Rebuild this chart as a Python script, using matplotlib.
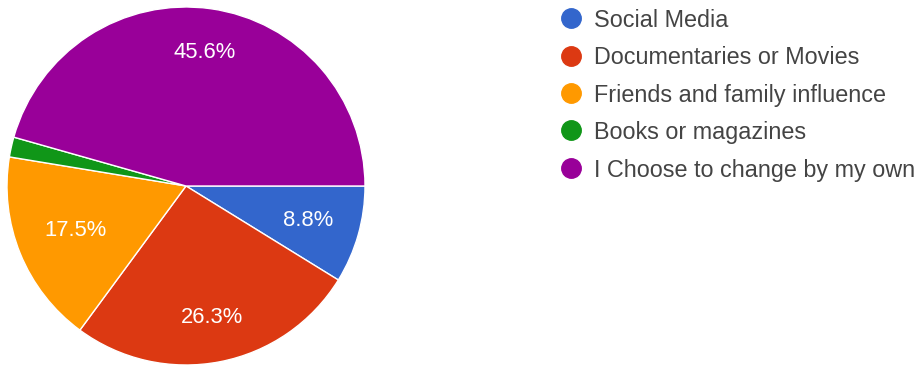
import matplotlib
matplotlib.use("Agg")
import matplotlib.pyplot as plt
import numpy as np

categories = [
    "Social Media",
    "Documentaries or Movies",
    "Friends and family influence",
    "Books or magazines",
    "I Choose to change by my own",
]
shares = [8.8, 26.3, 17.5, 1.8, 45.6]
colors = ["#3366cc", "#dc3912", "#ff9900", "#109618", "#990099"]

plt.rcParams["font.family"] = ["Liberation Sans", "DejaVu Sans"]

W, H = 923, 365
fig = plt.figure(figsize=(W / 100, H / 100), dpi=100)
fig.patch.set_facecolor("white")

# pie area: centre (186, 186) px from top-left, radius 179 px
cx, cy, R = 186, 186, 179
ax = fig.add_axes([(cx - R) / W, (H - cy - R) / H, 2 * R / W, 2 * R / H])

def fmt(p):
    return f"{p:.1f}%" if p >= 5 else ""

wedges, texts, autotexts = ax.pie(
    shares,
    colors=colors,
    startangle=0,
    counterclock=False,
    radius=1,
    autopct=fmt,
    pctdistance=0.72,
    wedgeprops=dict(edgecolor="white", linewidth=1.0),
    textprops=dict(color="white", fontsize=15.8),
)
ax.set_xlim(-1, 1)
ax.set_ylim(-1, 1)
ax.set_aspect("equal")
ax.axis("off")

# per-slice label radius
label_r = [0.71, 0.75, 0.665, 0.7, 0.755]
for w, t, r in zip(wedges, autotexts, label_r):
    ang = np.deg2rad((w.theta1 + w.theta2) / 2)
    t.set_position((r * np.cos(ang), r * np.sin(ang)))
    t.set_ha("center")
    t.set_va("center")

# legend
y0, dy = 18, 37.5
for i, (lab, col) in enumerate(zip(categories, colors)):
    y = y0 + i * dy
    fig.add_artist(plt.Line2D([571 / W], [1 - y / H], marker="o", markersize=14,
                              color=col, linestyle="none", transform=fig.transFigure))
    fig.text(594 / W, 1 - y / H, lab, fontsize=16.8, color="#444444",
             ha="left", va="center_baseline")

fig.savefig("out.png", dpi=100, facecolor="white")
